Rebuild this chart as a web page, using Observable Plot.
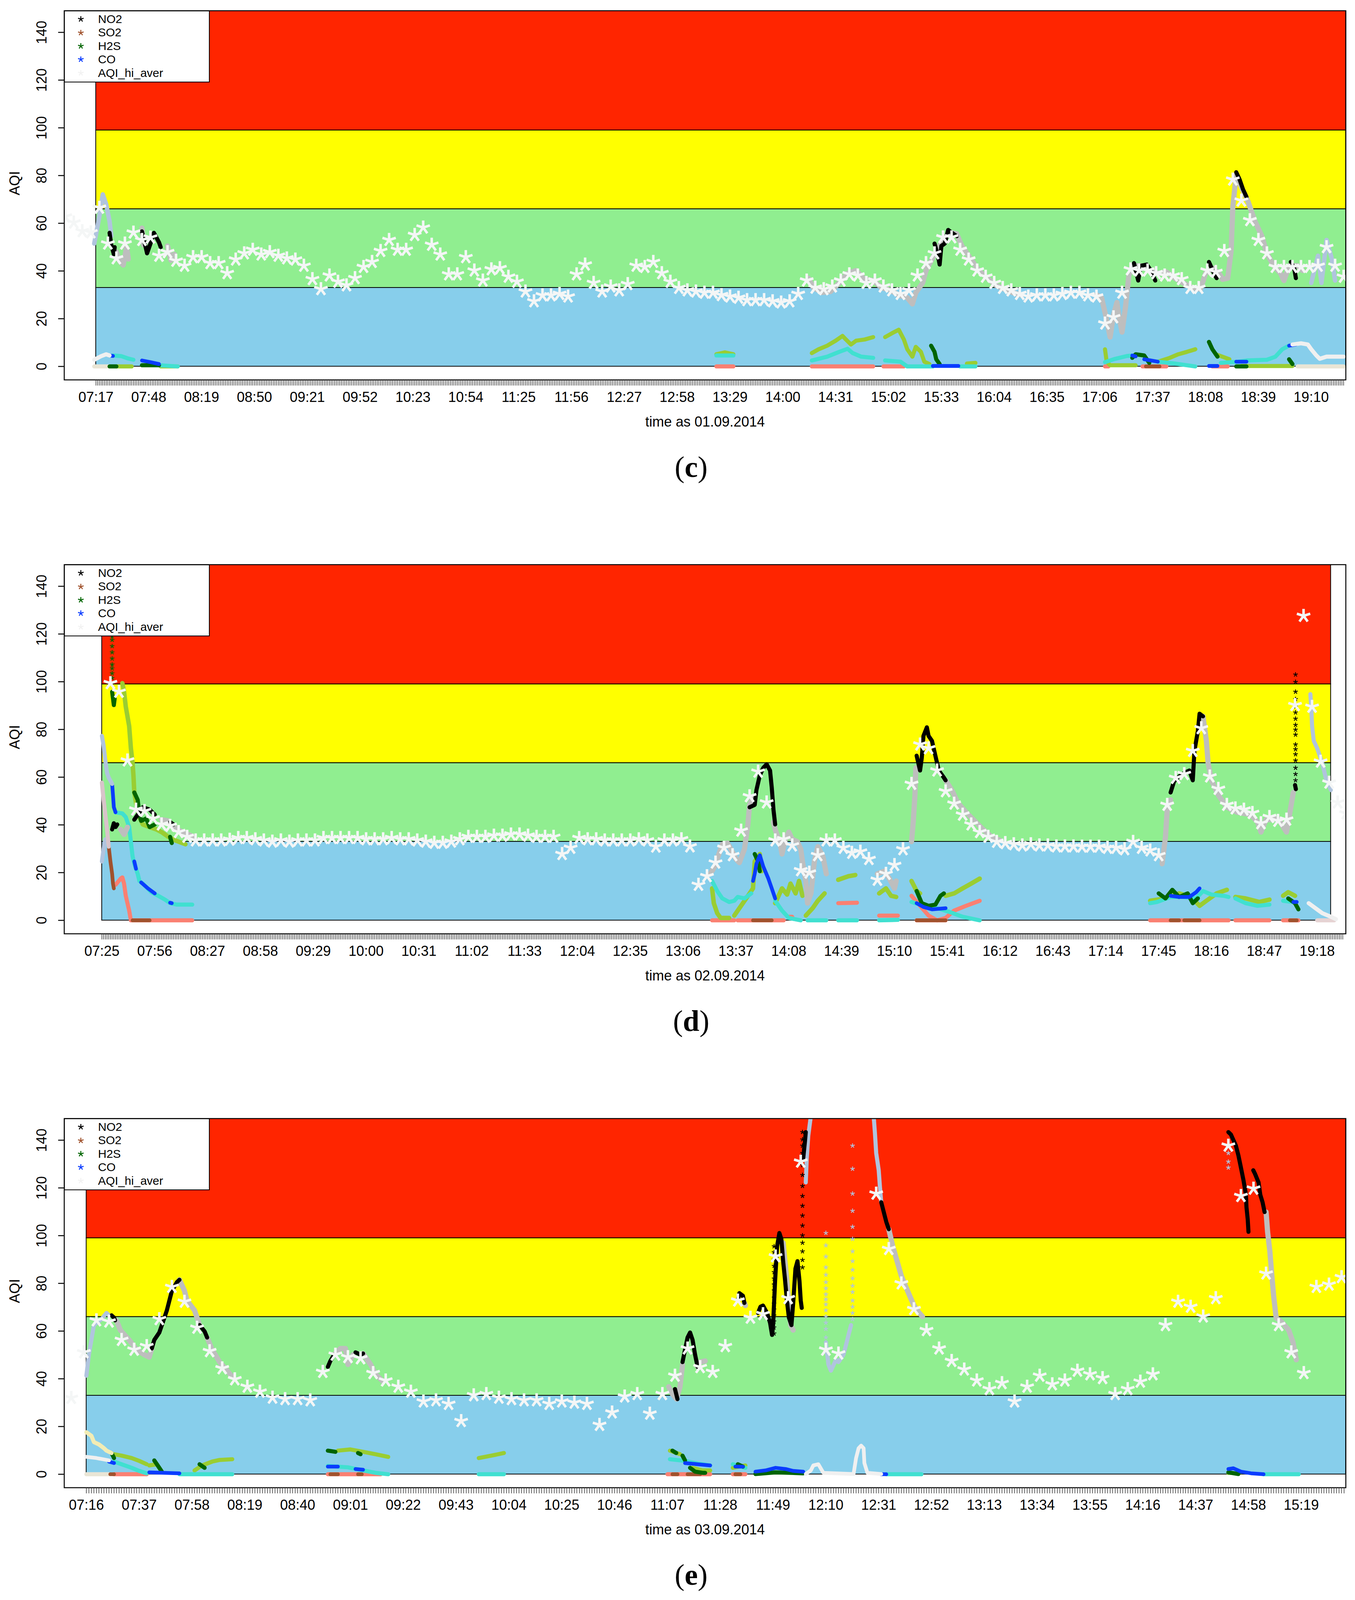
<!DOCTYPE html>
<html><head><meta charset="utf-8">
<script src="https://cdn.jsdelivr.net/npm/d3@7"></script>
<script src="https://cdn.jsdelivr.net/npm/@observablehq/plot@0.6"></script>
<style>
html,body{margin:0;padding:0;background:#fff;overflow:hidden;width:3470px}
.panel{position:absolute;left:0;width:3470px}
.panel svg.plot{position:absolute;left:0;top:0}
.legend{position:absolute;left:164px;width:373px;box-sizing:border-box;border:2.5px solid #000;background:#fff;font-family:"Liberation Sans",Arial,sans-serif;color:#000}
.legend .row{position:absolute;left:0;white-space:nowrap}
.legend .row span{position:absolute;left:85px;top:0}
.legend .row svg{position:absolute;left:29px}
.cap{position:absolute;left:1570px;width:400px;text-align:center;font-family:"Liberation Serif","Times New Roman",serif;color:#000}
</style>
</head><body>
<script>
// ---------------- tick labels ----------------
const yTicks = [0, 20, 40, 60, 80, 100, 120, 140];
const c_labels = ["07:17","07:48","08:19","08:50","09:21","09:52","10:23","10:54","11:25","11:56","12:27","12:58","13:29","14:00","14:31","15:02","15:33","16:04","16:35","17:06","17:37","18:08","18:39","19:10"];
const d_labels = ["07:25","07:56","08:27","08:58","09:29","10:00","10:31","11:02","11:33","12:04","12:35","13:06","13:37","14:08","14:39","15:10","15:41","16:12","16:43","17:14","17:45","18:16","18:47","19:18"];
const e_labels = ["07:16","07:37","07:58","08:19","08:40","09:01","09:22","09:43","10:04","10:25","10:46","11:07","11:28","11:49","12:10","12:31","12:52","13:13","13:34","13:55","14:16","14:37","14:58","15:19"];

// AQI bands
const bandLo = [0, 33, 66, 99];
const bandHi = [33, 66, 99, 160];
const bandFill = ["#87CEEB", "#90EE90", "#FFFF00", "#FF2500"];

// legend
const legendNames = ["NO2", "SO2", "H2S", "CO", "AQI_hi_aver"];
const legendColors = ["#000000", "#A0522D", "#006400", "#0A3CFF", "#F2F2F2"];

// ---------------- AQI_hi_aver (5-min averages) ----------------
const AQI_STEP = 5;
const c_aqi_start = "06:59";
const c_aqi = [62.8,60.3,56.7,56.2,66.5,51.5,45.3,51.5,56.1,53,
 54,46.4,47.9,44.3,42.2,45.8,45.8,43.3,43.3,39.1,
 44.8,47.4,48.9,46.9,47.9,46.4,45.3,44.8,42.2,36.6,
 32.4,38.1,35.5,34,37,41.7,43.8,48.4,53,48.9,
 48.9,55.1,58.2,51,46.9,38.6,38.6,45.8,40.2,36,
 40.7,41.2,37.6,35.5,31.4,27.3,29.8,29.8,30.4,29.3,
 38.6,42.7,35,31.4,33.5,31.9,34.5,42.2,41.7,43.8,
 39.1,35.5,32.9,31.9,31.4,30.9,30.9,29.9,29.3,28.8,
 27.8,27.8,27.8,27.3,26.8,27.3,30.4,36,33,32.4,
 33.5,36,38.6,38.1,35,36,33.5,31.9,30.4,31.9,
 38.1,43.3,47.4,54.1,54.1,48.9,44.8,40.2,37.6,35,
 32.9,31.9,30.4,29.3,29.8,29.8,29.8,30.4,30.9,30.9,
 29.8,29.3,18,20.6,30.9,40.7,40.2,40.2,39.1,38.1,
 38.1,36.6,32.9,32.9,40.2,39.6,48.4,78.3,69.5,61.3,
 53,47.4,41.7,41.7,41.7,41.7,41.7,42.2,50,42.2,37.6];
const d_aqi_start = "07:30";
const d_aqi = [99.4,95.8,67,46.4,45.8,42.7,40.2,39.6,37,35,
 33.5,33.5,33.5,33.5,33.8,34.5,34.5,34,33.5,33,
 33.5,33,33.5,33.5,33.5,34.5,34.5,34.5,34.5,34.5,
 34,34,34,34.5,34,34,33.5,33,32.5,32.5,
 33,34,35,35,35,35.5,35.5,36,36,35.5,
 35,35,35,27.8,30.4,34.5,34,34,33.5,33.5,
 33.5,33.5,34,33.5,30.9,33.5,33.5,34,31,14.9,
 18.5,24.2,30.4,27.3,37.6,52,62.3,49.4,33.5,34,
 31.4,21,20,27.3,33.5,33.5,30.4,28.3,28.8,25.7,
 17,19.5,23.2,29.8,57.2,73.7,72.1,62.8,54.1,48.9,
 44.3,40.2,37,35,32.9,32.4,31.9,31.4,31.9,31.4,
 31.4,31,31,31,30.9,30.9,30.9,30.4,30.4,29.8,
 32.9,30.4,29.3,27.3,48.4,59.7,61.3,71,80.5,60.3,
 55.1,48.4,46.9,46.4,45,40.7,43.3,41.7,42.2,90.2,
 127.6,89.5,66.5,57.7,49.4,44.8];
const e_aqi_start = "07:10";
const e_aqi = [32,51.1,64.5,64,56.3,52.2,53.7,65,78.5,72.3,
 61.4,51.6,44.4,39.8,36.7,34.6,32.1,31.5,31.5,31,
 42.9,50.1,49.1,48.6,42.4,39.3,36.7,34.6,30.5,31,
 29.5,22.3,33.1,33.6,32.1,31.5,31,31,29.5,30.5,
 30,29.5,20.7,25.9,32.6,33.6,25.4,33.6,41.3,52.7,
 44.9,42.9,53.7,72.8,65.6,67.1,91.3,73.8,131,null,
 52.2,50.6,null,null,117.6,94.4,80,69.2,60.4,52.7,
 47.5,43.9,39.3,35.7,38.2,30.5,36.7,41.3,37.7,39.3,
 43.4,41.9,40.3,33.6,35.7,38.8,41.9,62.5,72.3,70.2,
 66.1,73.8,137.7,116.6,119.7,84.1,62.5,51.1,42.4,78.5,
 79.5,82.6];

// ---------------- panel (c) 01.09.2014 ----------------
const c_lsb = [
 [["07:16",51.5],["07:19",62.8],["07:21",72.1],["07:23",68],["07:25",60.8],["07:26",54.6]],
 [["19:10",35],["19:14",46.4],["19:16",35],["19:19",53],["19:22",45.3],["19:24",36]]];
const c_gray = [
 [["07:29",48],["07:31",44],["07:33",42.5],["07:35",50],["07:36",45]],
 [["07:44",58],["07:45",51]],
 [["07:59",50.5],["08:01",44.5],["08:03",47]],
 [["14:15",37],["14:18",33],["14:23",31],["14:28",31.4],["14:33",35],["14:38",39],["14:43",40.2],["14:48",36.5],["14:53",36],["14:58",33],["15:03",32],["15:08",29.9],["15:13",28.8],["15:16",26.2],["15:18",30.9],["15:22",35],["15:24",40.2],["15:27",44.3],["15:30",48.4],["15:34",53],["15:38",56.1],["15:42",55.6],["15:45",50.5],["15:50",45.3],["15:55",40.2],["16:00",37],["16:05",34],["16:10",32.4],["16:15",30.9],["16:20",29.9]],
 [["17:04",30],["17:07",28.8],["17:10",19.5],["17:12",12.3],["17:14",21.6],["17:16",26.8],["17:17",21.6],["17:19",14.4],["17:21",24.7],["17:23",38.1],["17:25",42.2],["17:30",42.2],["17:35",40.2],["17:40",39],["17:45",39.6],["17:50",37],["17:55",35],["18:00",33],["18:05",32.4],["18:08",39],["18:12",41.2],["18:16",39],["18:18",36.5],["18:21",37],["18:23",48.4],["18:24",67],["18:26",80.4],["18:29",75.2],["18:33",69],["18:37",60.8],["18:41",54.6],["18:44",47.4],["18:48",42.2],["18:52",39],["18:54",36],["18:57",42.2],["19:02",42.2],["19:05",40.2]]];
const c_no2 = [
 [["07:25",56],["07:26",51],["07:27.5",47],["07:28",50]],
 [["07:44",56.6],["07:46",50.5],["07:47",47.4],["07:49",51.5],["07:51",56],["07:54",52],["07:55",50]],
 [["15:29",51.5],["15:31",46.4],["15:32",42.7],["15:33",50.5],["15:35",51.5],["15:37",57.2],["15:39",56.1],["15:42",54.6]],
 [["17:26",43.3],["17:28.5",36],["17:30",42.2],["17:33.5",42.7],["17:36",40.2],["17:38.5",36]],
 [["18:10",43.8],["18:12.6",39.6],["18:14.5",37]],
 [["18:26",81.4],["18:28",78.3],["18:30",74.2],["18:32",71.1]],
 [["18:58",43.8],["19:00",41.2],["19:01",37]]];
const c_so2 = [
 [["13:21",0],["13:31",0]], [["14:17",0],["14:53",0]], [["14:59",0],["15:11",0]],
 [["17:09",0],["17:11",0]], [["17:31",0],["17:45",0]], [["18:12",0],["18:21",0]]];
const c_sienna = [[["17:33",0],["17:41",0]]];
const c_turq = [
 [["07:27",4.6],["07:32",4.3],["07:36",3.3],["07:39",2.8]],
 [["07:54",0.5],["08:05",0]],
 [["13:21",4.6],["13:31",4.6]],
 [["14:17",2.5],["14:26",4.1],["14:33",6.1],["14:38",7.4],["14:41",5.6],["14:46",4.1],["14:53",3.6]],
 [["15:00",2.5],["15:09",2],["15:13",0],["15:28",0]],
 [["15:44",0],["15:53",0]],
 [["17:09",1.8],["17:15",3.2],["17:22",4.4],["17:26",4.6]],
 [["17:40",2],["17:50",1.2],["18:02",0]],
 [["18:17",1.5],["18:27",2],["18:32",2.5],["18:44",2.8],["18:49",4.1],["18:53",7.2],["18:57",8.7]]];
const c_ws = [
 [["07:16",2.8],["07:20",4.3],["07:23",5.1],["07:25",4.6]],
 [["18:59",9.2],["19:04",9.7],["19:08",9.2],["19:10",7.2],["19:13",4.6],["19:15",3.2],["19:19",4.1],["19:29",4.1]]];
const c_beige = [[["07:16",0],["07:25",0]], [["19:02",0],["19:29",0]]];
const c_yg = [
 [["07:29",0],["07:38",0]],
 [["07:55",0],["08:05",0]],
 [["13:21",5.1],["13:26",5.9],["13:31",5.1]],
 [["14:17",5.6],["14:21",7.2],["14:26",8.7],["14:31",10.8],["14:35",12.8],["14:37",11.3],["14:40",9.2],["14:43",10.8],["14:48",11.3],["14:53",12.3]],
 [["15:00",12.3],["15:04",13.9],["15:08",15.4],["15:11",11.3],["15:13",7.2],["15:16",4.1],["15:18",8.2],["15:21",6.1],["15:23",2],["15:26",1]],
 [["15:48",1.2],["15:53",1.5]],
 [["17:09",7.2],["17:10",2],["17:12",0.5],["17:27",0.5]],
 [["17:40",2],["17:47",3.6],["17:52",5.1],["17:57",6.1],["18:02",7.2]],
 [["18:14",5.1],["18:22",3]],
 [["18:29",0.2],["18:59",0.2]]];
const c_h2s = [
 [["07:25",0],["07:29",0]],
 [["07:44",0.5],["07:54",0.5]],
 [["15:27",8.7],["15:29",6.1],["15:30",3],["15:32",1]],
 [["17:25",3.6],["17:27",5.1],["17:32",4.6],["17:35",1.5]],
 [["18:10",10.3],["18:12",7.2],["18:15",4.1]],
 [["18:26",0],["18:32",0]],
 [["18:57",3],["18:59",1]]];
const c_co = [
 [["07:25",4.6],["07:27",4.4]],
 [["07:44",2.5],["07:49",1.8],["07:54",1]],
 [["15:28",0.2],["15:43",0.2]],
 [["17:25",4.6],["17:27",4.2]],
 [["17:32",3],["17:40",2]],
 [["18:10",0.2],["18:15",0.2]],
 [["18:26",2],["18:32",2]],
 [["18:57",8.7],["19:01",9.2]]];

// ---------------- panel (d) 02.09.2014 ----------------
const d_lsb = [
 [["07:25",77.3],["07:26",73.2],["07:27",67],["07:28",61.8],["07:29",59.8],["07:31",57.2]],
 [["07:25",24.7],["07:26",29.9],["07:27",34]],
 [["19:14",94.8],["19:14.5",89.6],["19:15",81.4],["19:16",75.2],["19:18",72.1],["19:21",65.9],["19:23",59.8],["19:26",54.6]]];
const d_pink = [[["07:25",57.7],["07:26",50.5],["07:27",44.3],["07:28",38.1],["07:29",30.9]]];
const d_gray = [
 [["07:36",38.1],["07:38",36],["07:40",39]],
 [["08:00",42.2],["08:04",41.7],["08:09",38.1],["08:14",36.5],["08:19",35]],
 [["13:22",19.5],["13:24.5",22.6],["13:27",27.8],["13:29",31.9],["13:32",32.4],["13:34",29.9],["13:37",25.7],["13:39",24.2],["13:42",29.9],["13:44",40.2],["13:45",48.4],["13:47",51.5]],
 [["13:59",41.2],["14:00",38.1],["14:03",31.9],["14:04",27.8],["14:06",34],["14:08",37],["14:10",34],["14:13",33],["14:15",29.9],["14:16",24.7],["14:18",16.5],["14:19",7.2],["14:21",11.3],["14:23",24.7],["14:25",30.9],["14:28",26.8],["14:30",19.5]],
 [["15:00",19.5],["15:04",20.6],["15:07",17.5],["15:10",13.4],["15:11",16.5]],
 [["15:20",33],["15:21",41.2],["15:22",52.5],["15:22.5",63.9]],
 [["15:40",58.7],["15:44",54.1],["15:47",49.4],["15:52",45.3],["15:57",41.7],["16:02",38.1],["16:07",35],["16:12",33.5]],
 [["17:47",23.7],["17:49",35],["17:50",46.4],["17:52",50.5]],
 [["18:11",85.5],["18:13",75.2],["18:14",65.9],["18:16",58.7],["18:20",52.5],["18:25",47.4],["18:31",45.3],["18:39",44.3],["18:43",41.2],["18:45",37],["18:48",42.2],["18:51",42.2],["18:55",42.7],["18:59",38.1],["19:00",37],["19:02",45.3],["19:04",53.6]]];
const d_no2 = [
 [["07:31",38.1],["07:32",40.7],["07:33",39.1],["07:34",40.2]],
 [["07:44",42.2],["07:47",45.3],["07:49",47.4],["07:53",46.4],["07:56",44.3]],
 [["08:05",41.2],["08:07",40.2]],
 [["13:45",47.4],["13:48",48.4],["13:49",54.6],["13:51",60.8],["13:53",63.9],["13:55",65.4],["13:57",62.8],["13:58",55.6],["13:59",46.4],["14:00",40.2]],
 [["15:23",69],["15:25",62.8],["15:26",68],["15:27",77.3],["15:29",80.9],["15:30",77.3],["15:32",75.2],["15:34",69],["15:36",62.8],["15:39",59.8],["15:40",58.7]],
 [["17:52",53.6],["17:54",58.2],["17:57",60.3],["18:00",61.8],["18:03",62.8],["18:05",58.7],["18:06",71.1],["18:08",79.4],["18:09",86.6],["18:11",85.5]],
 [["19:05",56.7],["19:05.5",55]]];
const d_no2_cols = [["19:05.3",[103,99.9,95.8,92.7,89.6,87.1,84.5,81.9,79.9,77.8,73.7,71.7,69.6,67,63.9,61.3,58.7]]];
const d_h2s_cols = [["07:31",[119,117.5,114.9,112.3,109.7,107.2,105.6,103.5,101.5]]];
const d_h2s = [
 [["07:31",95.8],["07:32",90.2],["07:32.5",93]],
 [["07:44",53.6],["07:46",50.5],["07:47",44.3],["07:48",41.7],["07:51",42.7],["07:53",39.1],["07:56",40.2]],
 [["08:05",35],["08:06",32.4]],
 [["13:48",27.8],["13:50",24.7],["13:51",20.6]],
 [["15:23",12.3],["15:26",7.2],["15:30",6.1],["15:34",6.6],["15:37",10.3],["15:39",11.3]],
 [["17:45",11.3],["17:49",9.2],["17:53",12.8],["17:57",9.8],["18:02",11.3],["18:05",7.2],["18:08",9.2]],
 [["19:01",9.2],["19:05",7.2],["19:07",4.6]]];
const d_yg = [
 [["07:37",99.4],["07:38",95.8],["07:39",89.6],["07:41",81.4],["07:42",72.1],["07:43",65.9],["07:43.5",60.8],["07:44",53.6],["07:45",49.4],["07:47",43.3],["07:49",40.2],["07:53",39.1],["07:57",38.1],["08:00",37],["08:04",35],["08:08",33.5],["08:14",31.9]],
 [["13:23",13.4],["13:24",7.2],["13:26",3],["13:28",1],["13:33",1]],
 [["13:36",2],["13:39",5.1],["13:43",9.2],["13:47",13.4],["13:48",24.7],["13:51",27.8],["13:52",20.6]],
 [["14:00",7.2],["14:04",13.4],["14:07",10.8],["14:09",15.4],["14:12",11.3],["14:14",16.5],["14:16",10.3]],
 [["14:18",2],["14:22",5.1],["14:25",8.2],["14:29",11.3]],
 [["14:37",17],["14:43",18.5],["14:47",19]],
 [["15:01",11.3],["15:05",13.4],["15:08",10.3],["15:11",9.8]],
 [["15:20",16.5],["15:23",12.3],["15:25",11.3]],
 [["15:40",10.3],["15:45",11.3],["15:50",13.4],["15:55",15.4],["16:00",17.5]],
 [["17:40",8.2],["17:49",9.2],["17:57",11.3],["18:04",9.8],["18:09",6.1],["18:13",8.2],["18:19",11.3],["18:25",12.8]],
 [["18:30",9.8],["18:36",9.2],["18:44",7.7],["18:50",8.7]],
 [["18:58",10.3],["19:01",11.8],["19:05",10.3]]];
const d_turq = [
 [["07:33",45.3],["07:37",44.8],["07:39",43.3],["07:41",39.1],["07:42",33],["07:43",26.8],["07:44",23.7],["07:46",19.5],["07:47",16.5],["07:49",15.4],["07:54",11.8],["07:58",10.3],["08:02",8.7],["08:05",7.2],["08:09",6.6],["08:18",6.6]],
 [["13:23",16.5],["13:26",12.3],["13:29",9.2],["13:33",7.7],["13:36",8.2],["13:38",9.8],["13:42",9.2],["13:46",11.3]],
 [["14:00",8.2],["14:04",4.1],["14:08",1],["14:15",0]],
 [["14:19",0],["14:30",0]],
 [["14:37",0],["14:48",0]],
 [["15:01",0],["15:12",0.2]],
 [["15:20",7.7],["15:27",6.1],["15:35",5.1],["15:42",3.6],["15:50",1.5],["16:00",0]],
 [["17:40",7.2],["17:44",7.7],["17:52",9.8],["17:59",9.8],["18:07",9.2],["18:11",12.3],["18:16",10.8],["18:23",10.3],["18:26",9.8]],
 [["18:30",9.2],["18:36",7.2],["18:43",6.1],["18:50",6.6]],
 [["18:58",8.2],["19:04",7.7]]];
const d_co = [
 [["07:31",57.2],["07:31.5",52.5],["07:32",47.4],["07:33",45.3]],
 [["07:44",24.7],["07:45",21.6]],
 [["07:48",15.9],["07:52",13.4],["07:56",11.3]],
 [["08:05",7.4],["08:06",7.2]],
 [["13:47",16.5],["13:48",19.5],["13:49",23.7],["13:51",27.3],["13:53",22.6],["13:56",17.5],["13:58",13.4],["14:00",9.2]],
 [["15:23",7.2],["15:27",5.6],["15:32",4.6],["15:40",5.1]],
 [["17:52",10.3],["17:57",9.8],["18:03",9.8],["18:07",11.8],["18:09",13.4]],
 [["19:04",7.7],["19:06",7.7]]];
const d_sienna = [
 [["07:29",30.9],["07:30",24.7],["07:31",19.5],["07:31.5",15.4],["07:32",13.4]],
 [["07:43",0],["07:53",0]], [["13:47",0],["13:58",0]], [["15:23",0],["15:40",0]],
 [["17:52",0],["17:57",0]], [["18:00",0],["18:09",0]], [["19:02",0],["19:06",0]]];
const d_so2 = [
 [["07:33",14.9],["07:36",17.5],["07:37",18],["07:38",15.4],["07:39",10.3],["07:41",4.1],["07:42",0],["08:18",0]],
 [["13:23",0],["13:36",0]], [["13:38",0],["14:05",0]], [["14:08",1.5],["14:10",1.5]],
 [["14:37",7.2],["14:48",7.4]], [["15:01",2],["15:12",2]],
 [["15:20",10.3],["15:25",6.1],["15:30",2],["15:35",0],["15:40",1],["15:45",4.1],["15:52",6.1],["16:00",8.2]],
 [["15:23",0],["15:40",0]], [["17:40",0],["18:26",0]], [["18:30",0],["18:50",0]], [["18:58",0],["19:07",0]]];
const d_ws = [[["19:13",7.2],["19:17",5.1],["19:21",3],["19:26",1.5],["19:29",0.5]]];
const d_rose = [[["19:18",0],["19:28",0]]];

// ---------------- panel (e) 03.09.2014 ----------------
const e_lsb = [
 [["07:16",41.3],["07:17",50.1],["07:18",56.3],["07:19",62.5],["07:22",65],["07:24",67.6],["07:25",66.6]],
 [["12:02",122.3],["12:02.4",132.6],["12:03",141.9],["12:04",150]],
 [["12:10",55.3],["12:11",46],["12:12",43.4],["12:14",48],["12:15",47],["12:17",50.1],["12:18",54.2],["12:19",58.4],["12:20",62.5]],
 [["12:29",150],["12:29.5",142.9],["12:30",134.6],["12:31",127.4],["12:31.5",120.2],["12:32",114]]];
const e_lsb_cols = [
 ["12:10",[101.1,95.9,91.2,86.7,83.6,80.5,77.9,75.4,73.3,71.2,68.7,66.1,63.5,60.9,57.3]],
 ["12:20.6",[137.7,128,117.6,110.4,103.7,98.6,93.4,89.3,85.7,82.1,79,76.4,72.8,70.2,67.6,65]],
 ["14:50",[134.6,131,128.5]]];
const e_gray = [
 [["07:28",64.5],["07:29.5",60.4],["07:33",56.3],["07:36",52.2],["07:39",50.1],["07:41",49.1],["07:42",52.7]],
 [["07:53",81.5],["07:55",76.9],["07:56",72.8],["07:59",68.7],["08:01",62.5]],
 [["08:04",57.3],["08:06",52.2],["08:09",47],["08:11.6",43.9],["08:14",40.8]],
 [["08:54.5",50.1],["08:57",52.7],["08:59",52.7],["09:00",46],["09:02",50.1]],
 [["09:06",50.6],["09:09",46],["09:11",41.9],["09:14",38.8]],
 [["11:07.5",36.7],["11:09",33.6],["11:10.6",31.5],["11:12",36.7],["11:13",46]],
 [["11:19",45],["11:20",47],["11:22",47.5]],
 [["11:37.6",71.8],["11:38",70.7]],
 [["11:53",97],["11:54.5",81],["11:56",62.5],["11:57",60.4]],
 [["12:35",102.7],["12:36.6",95.5],["12:38.3",89.3],["12:40",83.1],["12:41.6",79],["12:43.3",74.8],["12:45",70.7],["12:46.7",68.1],["12:48.4",66.1]],
 [["15:05",109.9],["15:05.6",101.6],["15:06.5",93.4],["15:07.3",83.1],["15:08",74.8],["15:09",65.6],["15:11.5",63.5],["15:14",60.4],["15:15.7",55.3],["15:17",48]]];
const e_no2 = [
 [["07:26",66.6],["07:27",65.6],["07:27.4",64.5]],
 [["07:42",52.7],["07:43",56.3],["07:45",59.4],["07:46",62.5],["07:48",68.7],["07:49",72.8],["07:50",76.9],["07:52",80.5],["07:53",81.5]],
 [["08:01",62.5],["08:03",59.9],["08:04",57.3]],
 [["08:52",45],["08:53",47.5],["08:54.5",50.1]],
 [["09:03",51.1],["09:05",50.1],["09:06",50.6]],
 [["11:10",35.7],["11:11",31.5]],
 [["11:13",47],["11:14",52.2],["11:15",57.3],["11:16",59.4],["11:17",56.3],["11:18",50.1],["11:19",45]],
 [["11:35",72.8],["11:35.6",75.9],["11:37",74.8],["11:37.6",71.8]],
 [["11:43",67.6],["11:44",70.2],["11:45",70.7],["11:46.6",67.6],["11:47.8",63.5],["11:48.6",58.4],["11:49",62.5],["11:49.8",81],["11:50.6",95.5],["11:51.5",101.1],["11:52.3",98.6],["11:53",89.3],["11:53.7",82.1],["11:54.5",72.8],["11:55.3",65.6],["11:56.3",62.5],["11:57",71.8],["11:57.9",86.2],["11:58.7",89.3],["11:59.5",81],["12:00",72.8],["12:00.4",69.7]],
 [["12:01",132.6],["12:01.7",139.8],["12:02",143.4]],
 [["12:32",114],["12:33",109.9],["12:34",105.8],["12:35",102.7]],
 [["14:50",143.4],["14:51",142.4],["14:53",137.7],["14:54",133.6],["14:55",128.5],["14:56",123.3],["14:57",117.1],["14:57.2",112],["14:57.7",106.8],["14:58",101.6]],
 [["14:59.9",127.4],["15:00.6",125.9],["15:02",122.3],["15:02.7",117.1],["15:03.6",114],["15:04.4",109.9]]];
const e_no2_cols = [
 ["12:00.7",[143.4,140.3,137.7,134.6,132.1,129.5,125.4,120.8,116.6,112.5,108.4,104.2,100.1,97,93.4,89.8,86.7]],
 ["11:49.4",[95.5,93,90,87.3,84.7,82,79.5,77,74,71.5,69,66.5,64,61.5,59]]];
const e_ly = [[["07:16",17.6],["07:18",16.1],["07:19",13.5],["07:21",12.5],["07:23",10.9],["07:24",9.9],["07:26",8.9]]];
const e_ws = [
 [["07:16",7.3],["07:20",6.8],["07:25",5.8]],
 [["12:02",0.1],["12:04",1.6],["12:05",3.7],["12:07",4.2],["12:09",0.6],["12:21",0.1],["12:22",6.8],["12:23",10.9],["12:24",12],["12:25",10.9],["12:25.3",4.7],["12:26.5",0.6],["12:32",0.1]]];
const e_beige = [[["07:16",0],["07:25",0]]];
const e_so2 = [[["07:27",0],["07:40",0]], [["08:52",0],["09:13",0]], [["11:07",0],["11:24",0]], [["11:33",0],["11:38",0]]];
const e_sienna = [[["07:25.5",0],["07:27",0]], [["08:53",0],["08:56",0]], [["09:04",0],["09:05.5",0]], [["11:09",0],["11:11",0]], [["11:15",0],["11:20",0]], [["11:34",0],["11:36",0]]];
const e_turq = [
 [["07:27",5.3],["07:30",4.2],["07:34",2.7],["07:37",1.4],["07:40",0.4]],
 [["07:53",0],["08:14",0]],
 [["08:52",3.5],["09:00",2.9],["09:06",1.6],["09:11",0.6],["09:16",0]],
 [["09:52",0],["10:02",0]],
 [["11:08",6.3],["11:14",5.6],["11:19",4.5],["11:24",3.7]],
 [["11:33",4.2],["11:38",2.7]],
 [["12:34",0],["12:48",0]],
 [["15:04",0],["15:18",0]]];
const e_co = [
 [["07:25",5.3],["07:27",4.7]],
 [["07:41",0.8],["07:53",0.4]],
 [["08:52",3.2],["08:56",3.2]],
 [["09:03",2.2],["09:06",1.9]],
 [["11:14",4.7],["11:19",4.2],["11:24",3.7]],
 [["11:34",3.2],["11:37",3.2]],
 [["11:42",1.1],["11:46",1.6],["11:50",2.7],["11:54",2.2],["11:57",1.4],["12:01",1.1]],
 [["12:32",0],["12:34",0]],
 [["14:50",2.2],["14:52",2.5],["14:55",1.1],["14:59",0.4],["15:04",0]]];
const e_yg = [
 [["07:27",8.4],["07:30",7.8],["07:34",6.8],["07:37",5.6],["07:40",4.2]],
 [["07:41",3.7],["07:44",4.2],["07:46",1.1]],
 [["07:59",1.6],["08:02",3.7],["08:06",5.3],["08:09",6],["08:14",6.3]],
 [["08:56",9.9],["09:01",10.4],["09:06",9.4],["09:11",8.4],["09:16",7.3]],
 [["09:52",6.8],["09:57",7.8],["10:02",8.9]],
 [["11:08",9.9],["11:12",8.4]],
 [["11:17",2.7],["11:21",1.6],["11:24",1.6]],
 [["11:33",2.7],["11:38",3.7]],
 [["14:50",0.6],["14:51",0.6]]];
const e_h2s = [
 [["07:26",8.9],["07:27",6.8]],
 [["07:43",5.8],["07:45",2.7],["07:46",1.1]],
 [["08:01",4.2],["08:03",2.7]],
 [["08:52",9.9],["08:55",9.4]],
 [["09:04",8.9],["09:05",8.4]],
 [["11:09",9.9],["11:10.5",8.9]],
 [["11:13",7.8],["11:14",5.8]],
 [["11:16",2.7],["11:18",1.1],["11:21",0.6],["11:22",0.6]],
 [["11:35",4.2],["11:37",3.2]],
 [["11:42",0.1],["11:50",0.8],["12:01",0.4]],
 [["14:50",0.8],["14:54",0.1]]];

// ---------------- styling tables ----------------
const COL = {beige:"#E9E5D5", so2:"#FA8072", sienna:"#A0522D", yg:"#9ACD32", turq:"#40E0D0", h2s:"#006400",
  co:"#0A3CFF", ws:"#F0F0F0", ly:"#F2ECB4", gray:"#BEBEBE", lsb:"#B0C4DE", pink:"#D8C4CA", rose:"#E6D3D3",
  no2:"#000000", aqi:"#F4F6F6"};
const toMin = s => { const [h, m] = s.split(":"); return +h * 60 + parseFloat(m); };
const flat = segs => segs.flatMap((seg, i) => seg.map(([t, v]) => ({t: toMin(t), v, seg: i})));
const colPts = cols => cols.flatMap(([t, vals]) => vals.map(v => ({t: toMin(t), v})));

// five-armed asterisk like the "*" glyph used by R
const star5 = {
  draw(context, size) {
    const r = Math.sqrt(size / Math.PI);
    for (let k = 0; k < 5; k++) {
      const a = Math.PI / 2 + k * 2 * Math.PI / 5;
      context.moveTo(0, 0);
      context.lineTo(r * Math.cos(a), -r * Math.sin(a));
    }
  }
};
const starPath = r => d3.range(5).map(k => {
  const a = Math.PI / 2 + k * 2 * Math.PI / 5;
  return `M0,0L${(r * Math.cos(a)).toFixed(2)},${(-r * Math.sin(a)).toFixed(2)}`;
}).join("");

const PANELS = [
  {top: 0, domain: [418.4, 1170.3], band: ["07:17", null], tickRange: ["07:17", "19:29"], labels: c_labels,
   title: "time as 01.09.2014", cap: "c", aqi: [c_aqi_start, c_aqi],
   series: [[c_beige,"beige",11],[c_so2,"so2",11],[c_sienna,"sienna",10],[c_yg,"yg",11],[c_turq,"turq",11],[c_h2s,"h2s",11],
            [c_co,"co",10],[c_ws,"ws",11],[c_gray,"gray",14],[c_lsb,"lsb",12],[c_no2,"no2",11]],
   cols: []},
  {top: 1609, domain: [422.9, 1174.8], band: ["07:25", "19:26"], tickRange: ["07:25", "19:33"], labels: d_labels,
   title: "time as 02.09.2014", cap: "d", aqi: [d_aqi_start, d_aqi],
   series: [[d_so2,"so2",11],[d_rose,"rose",11],[d_sienna,"sienna",10],[d_yg,"yg",12],[d_turq,"turq",11],[d_h2s,"h2s",11],
            [d_co,"co",10],[d_ws,"ws",11],[d_gray,"gray",14],[d_lsb,"lsb",11],[d_pink,"pink",11],[d_no2,"no2",11]],
   cols: [[d_h2s_cols,"h2s"],[d_no2_cols,"no2"]]},
  {top: 3218, domain: [427.2, 936.7], band: ["07:16", null], tickRange: ["07:16", "15:36"], labels: e_labels,
   title: "time as 03.09.2014", cap: "e", aqi: [e_aqi_start, e_aqi],
   series: [[e_beige,"beige",11],[e_so2,"so2",11],[e_sienna,"sienna",10],[e_yg,"yg",11],[e_turq,"turq",11],[e_h2s,"h2s",11],
            [e_co,"co",10],[e_ws,"ws",10],[e_ly,"ly",11],[e_gray,"gray",14],[e_lsb,"lsb",11],[e_no2,"no2",11]],
   cols: [[e_lsb_cols,"lsb"],[e_no2_cols,"no2"]]}
];

// fit the 4648px-tall layout into the visible window height
const VH = (window.innerHeight && window.innerHeight > 2000) ? window.innerHeight : 4648;
const SY = Math.min(1, VH / 4648);
const FS = Math.round(38 * (0.55 + 0.45 * SY));
const CAPFS = Math.round(80 * (0.55 + 0.45 * SY));
const LEGH = Math.round(209 * SY);            // legend box height
const LROW = (LEGH - 12) / 5;                 // legend row pitch
const LFS = Math.floor(LROW / 1.13);          // legend font, rows must not overlap
document.documentElement.style.height = VH + "px";
document.body.style.height = VH + "px";

function makePanel(p) {
  const [x0, x1] = p.domain;
  const bx1 = toMin(p.band[0]);
  const bx2 = p.band[1] ? toMin(p.band[1]) : x1;
  const bands = bandLo.map((lo, i) => ({x1: bx1, x2: bx2, y1: lo, y2: bandHi[i], fill: bandFill[i]}));
  const minuteTicks = d3.range(toMin(p.tickRange[0]), toMin(p.tickRange[1]) + 0.5, 1);
  const aqiPts = p.aqi[1].map((v, i) => ({t: toMin(p.aqi[0]) + AQI_STEP * i, v}));
  const marks = [
    Plot.rect(bands, {x1: "x1", x2: "x2", y1: "y1", y2: "y2", fill: "fill", stroke: "black", strokeWidth: 2, clip: true})
  ];
  for (const [segs, key, w] of p.series) {
    marks.push(Plot.line(flat(segs), {x: "t", y: "v", z: "seg", stroke: COL[key], strokeWidth: w * (0.6 + 0.4 * SY),
      strokeLinecap: "round", strokeLinejoin: "round", clip: true}));
  }
  for (const [cols, key] of p.cols) {
    marks.push(Plot.dot(colPts(cols), {x: "t", y: "v", symbol: star5, r: 6, fill: "none", stroke: COL[key], strokeWidth: 2.2, clip: true}));
  }
  marks.push(Plot.dot(aqiPts, {x: "t", y: "v", symbol: star5, r: 18, fill: "none", stroke: COL.aqi, strokeWidth: 6.5,
    strokeLinecap: "butt", clip: true}));
  marks.push(Plot.frame({stroke: "black", strokeWidth: 2.5}));
  marks.push(Plot.axisY({ticks: yTicks, tickSize: 15, tickFormat: () => "", strokeWidth: 2.5, label: null}));
  marks.push(Plot.text(yTicks, {y: d => d, frameAnchor: "left", dx: -57, rotate: -90, text: d => String(d),
    fontSize: FS, lineAnchor: "middle", textAnchor: "middle"}));
  marks.push(Plot.text(["AQI"], {frameAnchor: "left", dx: -126, rotate: -90, fontSize: FS, lineAnchor: "middle"}));
  marks.push(Plot.axisX({ticks: minuteTicks, tickSize: 17 * SY, tickFormat: () => "", stroke: "#333", strokeWidth: 1.5, label: null}));
  marks.push(Plot.text(p.labels, {x: d => toMin(d), frameAnchor: "bottom", dy: 51 * SY, text: d => d, fontSize: FS, lineAnchor: "middle"}));
  marks.push(Plot.text([p.title], {frameAnchor: "bottom", dy: 122 * SY, fontSize: FS, lineAnchor: "middle"}));

  const svg = Plot.plot({
    width: 3470, height: Math.round(1250 * SY),
    marginLeft: 164, marginRight: 24, marginTop: Math.round(31 * SY), marginBottom: Math.round(147 * SY),
    x: {type: "linear", domain: [x0, x1]},
    y: {domain: [-5.63, 149.07]},
    color: {type: "identity"},
    style: {fontFamily: "'Liberation Sans', Arial, Helvetica, sans-serif", fontSize: FS + "px", color: "black", background: "white", overflow: "visible"},
    marks
  });
  svg.classList.add("plot");

  const div = document.createElement("div");
  div.className = "panel";
  div.style.top = Math.round(p.top * SY) + "px";
  div.style.height = Math.round(1609 * SY) + "px";
  div.appendChild(svg);

  const leg = document.createElement("div");
  leg.className = "legend";
  leg.style.top = Math.round(31 * SY) + "px";
  leg.style.height = LEGH + "px";
  leg.style.fontSize = LFS + "px";
  legendNames.forEach((n, i) => {
    const r = document.createElement("div");
    r.className = "row";
    r.style.top = (3 + i * LROW) + "px";
    r.style.height = LROW + "px";
    r.style.lineHeight = LROW + "px";
    r.innerHTML = `<svg width="24" height="24" viewBox="-12 -12 24 24" style="top:${(LROW - 24) / 2}px"><path d="${starPath(7.5)}" stroke="${legendColors[i]}" stroke-width="2.6" fill="none"/></svg><span>${n}</span>`;
    leg.appendChild(r);
  });
  div.appendChild(leg);

  const cap = document.createElement("div");
  cap.className = "cap";
  cap.style.fontSize = CAPFS + "px";
  cap.style.lineHeight = CAPFS + "px";
  cap.style.top = Math.round(1363 * SY - 0.578 * CAPFS) + "px";
  cap.innerHTML = `(<b>${p.cap}</b>)`;
  div.appendChild(cap);
  document.body.appendChild(div);
}
PANELS.forEach(makePanel);
</script>
</body></html>
